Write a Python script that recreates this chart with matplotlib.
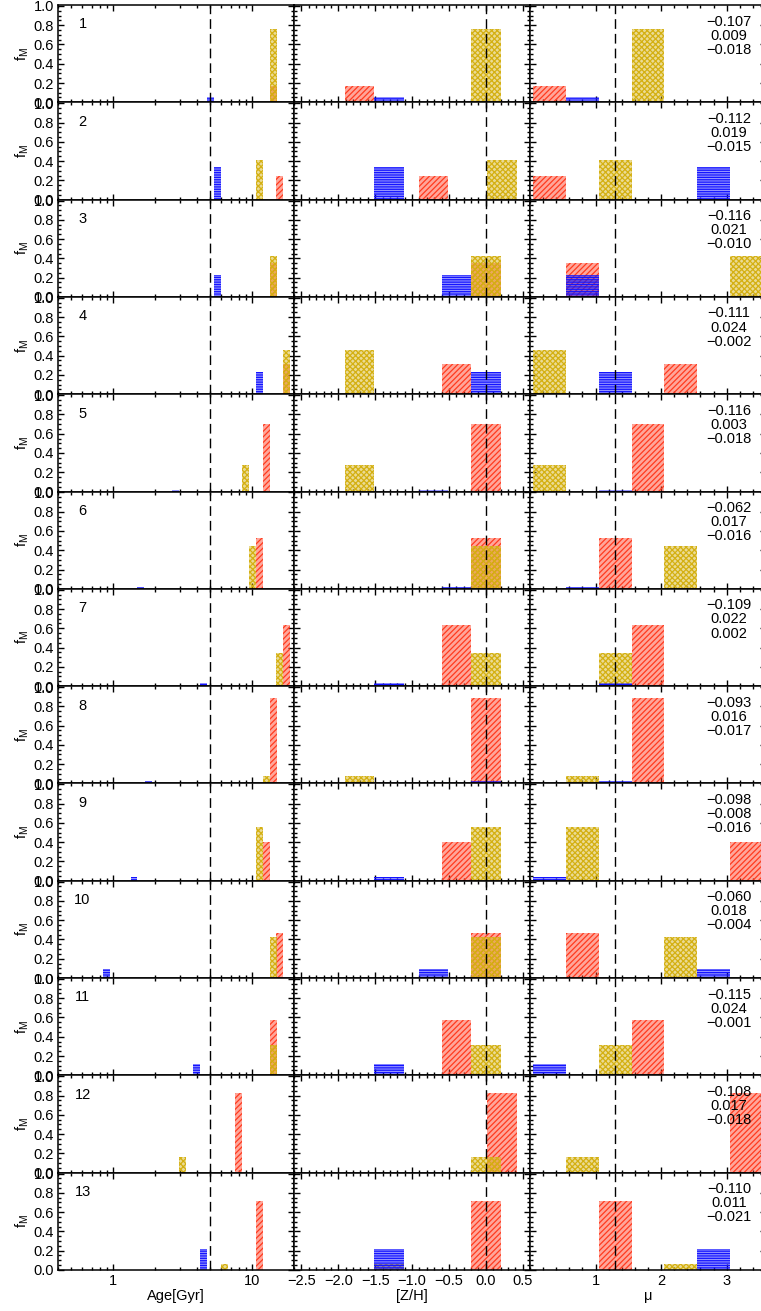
import numpy as np
import matplotlib
matplotlib.use("Agg")
import matplotlib.pyplot as plt
from matplotlib.colors import to_rgba
from matplotlib.ticker import FixedLocator, MultipleLocator, NullFormatter

plt.rcParams["font.family"] = ["Liberation Sans", "DejaVu Sans"]
plt.rcParams["mathtext.default"] = "regular"
plt.rcParams["hatch.linewidth"] = 0.9
plt.rcParams["font.size"] = 10.5

# mass fraction, age [Gyr], [Z/H] and IMF slope of the three components, per model
frac_blue = [0.06, 0.34, 0.23, 0.23, 0.02, 0.02, 0.03, 0.03, 0.04, 0.09, 0.12, 0.00, 0.22]
frac_yellow = [0.76, 0.41, 0.42, 0.46, 0.28, 0.44, 0.34, 0.08, 0.56, 0.43, 0.31, 0.16, 0.06]
frac_red = [0.17, 0.25, 0.35, 0.31, 0.70, 0.53, 0.63, 0.89, 0.40, 0.47, 0.57, 0.83, 0.72]

age_blue = [5.01, 5.62, 5.62, 11.22, 2.82, 1.58, 4.47, 1.78, 1.41, 0.89, 3.98, np.nan, 4.47]
age_yellow = [14.13, 11.22, 14.13, 17.78, 8.91, 10.00, 15.85, 12.59, 11.22, 14.13, 14.13, 3.16, 6.31]
age_red = [14.13, 15.85, 14.13, 17.78, 12.59, 11.22, 17.78, 14.13, 12.59, 15.85, 14.13, 7.94, 11.22]

zh_blue = [-1.31, -1.31, -0.40, 0.00, -0.71, -0.40, -1.31, 0.00, -1.31, -0.71, -1.31, np.nan, -1.31]
zh_yellow = [0.00, 0.22, 0.00, -1.71, -1.71, 0.00, 0.00, -1.71, 0.00, 0.00, 0.00, 0.00, -1.31]
zh_red = [-1.71, -0.71, 0.00, -0.40, 0.00, 0.00, -0.40, 0.00, -0.40, 0.00, -0.40, 0.22, 0.00]

mu_blue = [0.8, 2.8, 0.8, 1.3, 1.3, 0.8, 1.3, 1.3, 0.3, 2.8, 0.3, np.nan, 2.8]
mu_yellow = [1.8, 1.3, 3.3, 0.3, 0.3, 2.3, 1.3, 0.8, 0.8, 2.3, 1.3, 0.8, 2.3]
mu_red = [0.3, 0.3, 0.8, 2.3, 1.8, 1.3, 1.8, 1.8, 3.3, 0.8, 1.8, 3.3, 1.3]

# numbers printed in the upper right corner of each row
notes = [
    ("\u22120.107", "0.009", "\u22120.018"),
    ("\u22120.112", "0.019", "\u22120.015"),
    ("\u22120.116", "0.021", "\u22120.010"),
    ("\u22120.111", "0.024", "\u22120.002"),
    ("\u22120.116", "0.003", "\u22120.018"),
    ("\u22120.062", "0.017", "\u22120.016"),
    ("\u22120.109", "0.022", "0.002"),
    ("\u22120.093", "0.016", "\u22120.017"),
    ("\u22120.098", "\u22120.008", "\u22120.016"),
    ("\u22120.060", "0.018", "\u22120.004"),
    ("\u22120.115", "0.024", "\u22120.001"),
    ("\u22120.108", "0.017", "\u22120.018"),
    ("\u22120.110", "0.011", "\u22120.021"),
]

ref_age, ref_zh, ref_mu = 5.0, 0.0, 1.3

components = [
    (frac_red, age_red, zh_red, mu_red, "#ff3b1f", "//////"),
    (frac_yellow, age_yellow, zh_yellow, mu_yellow, "#d4b012", "xxxxxx"),
    (frac_blue, age_blue, zh_blue, mu_blue, "#1414ff", "-------"),
]

W, H = 761.0, 1311.0
col_x = [58, 294, 530]
pw, ph, top = 236.0, 97.3, 5.0
nrow = len(frac_red)
dash = (0, (7, 3.6))

fig = plt.figure(figsize=(W / 100, H / 100), dpi=100)


def draw_bar(ax, left, width, height, color, hatch):
    ax.bar(left, height, width=width, align="edge",
           facecolor=to_rgba(color, 0.45), edgecolor=to_rgba(color, 1.0),
           linewidth=0, hatch=hatch, zorder=2)


def style_axis(ax, show_y):
    ax.set_ylim(0, 1.01)
    ax.yaxis.set_major_locator(FixedLocator([0, 0.2, 0.4, 0.6, 0.8, 1.0]))
    ax.yaxis.set_minor_locator(MultipleLocator(0.05))
    ax.tick_params(which="both", direction="in", top=True, right=True, width=1.0)
    ax.tick_params(which="major", length=4.5, pad=3)
    ax.tick_params(which="minor", length=2.2)
    for s in ax.spines.values():
        s.set_linewidth(1.1)
    if show_y:
        ax.set_yticklabels(["0.0", "0.2", "0.4", "0.6", "0.8", "1.0"])
        ax.set_ylabel("f$_M$")
        ax.yaxis.set_label_coords(-0.115, 0.5)
    else:
        ax.yaxis.set_major_formatter(NullFormatter())


for i in range(nrow):
    bottom = 1 - (top + (i + 1) * ph) / H
    ax_age = fig.add_axes([col_x[0] / W, bottom, pw / W, ph / H])
    ax_zh = fig.add_axes([col_x[1] / W, bottom, pw / W, ph / H])
    ax_mu = fig.add_axes([col_x[2] / W, bottom, pw / W, ph / H])
    last = i == nrow - 1

    for frac, age, zh, mu, color, hatch in components:
        f = frac[i]
        if f <= 0 or np.isnan(age[i]):
            continue
        la = np.log10(age[i])
        lo, hi = 10 ** (la - 0.025), 10 ** (la + 0.025)
        draw_bar(ax_age, lo, hi - lo, f, color, hatch)
        draw_bar(ax_zh, zh[i] - 0.2, 0.4, f, color, hatch)
        draw_bar(ax_mu, mu[i] - 0.25, 0.5, f, color, hatch)

    # age panel
    ax_age.set_xscale("log")
    ax_age.set_xlim(0.4, 20)
    ax_age.xaxis.set_major_locator(FixedLocator([1, 10]))
    ax_age.xaxis.set_minor_locator(FixedLocator(
        [k * 10 ** e for e in (-1, 0, 1) for k in range(2, 10)]))
    ax_age.xaxis.set_minor_formatter(NullFormatter())
    ax_age.set_xticklabels(["1", "10"] if last else ["", ""])
    ax_age.axvline(ref_age, color="black", lw=1.0, ls=dash, zorder=5)
    ax_age.text(0.104, 0.80, str(i + 1), transform=ax_age.transAxes,
                ha="center", va="center")
    style_axis(ax_age, True)

    # metallicity panel
    ax_zh.set_xlim(-2.6, 0.6)
    ax_zh.xaxis.set_major_locator(MultipleLocator(0.5))
    ax_zh.xaxis.set_minor_locator(MultipleLocator(0.1))
    if not last:
        ax_zh.xaxis.set_major_formatter(NullFormatter())
    else:
        ax_zh.xaxis.set_major_formatter(lambda v, p: f"{v:.1f}".replace("-", "\u2212"))
    ax_zh.axvline(ref_zh, color="black", lw=1.0, ls=dash, zorder=5)
    style_axis(ax_zh, False)

    # IMF slope panel
    ax_mu.set_xlim(0.0, 3.6)
    ax_mu.xaxis.set_major_locator(FixedLocator([1, 2, 3]))
    ax_mu.xaxis.set_minor_locator(MultipleLocator(0.2))
    if not last:
        ax_mu.xaxis.set_major_formatter(NullFormatter())
    else:
        ax_mu.set_xticklabels(["1", "2", "3"])
    ax_mu.axvline(ref_mu, color="black", lw=1.0, ls=dash, zorder=5)
    for k, s in enumerate(notes[i]):
        ax_mu.text(0.843, 0.83 - 0.145 * k, s, transform=ax_mu.transAxes,
                   ha="center", va="center")
    style_axis(ax_mu, False)

    if last:
        ax_age.set_xlabel("Age[Gyr]", labelpad=1)
        ax_zh.set_xlabel("[Z/H]", labelpad=1)
        ax_mu.set_xlabel("\u03bc", labelpad=1)

fig.savefig("out.png", dpi=100)
